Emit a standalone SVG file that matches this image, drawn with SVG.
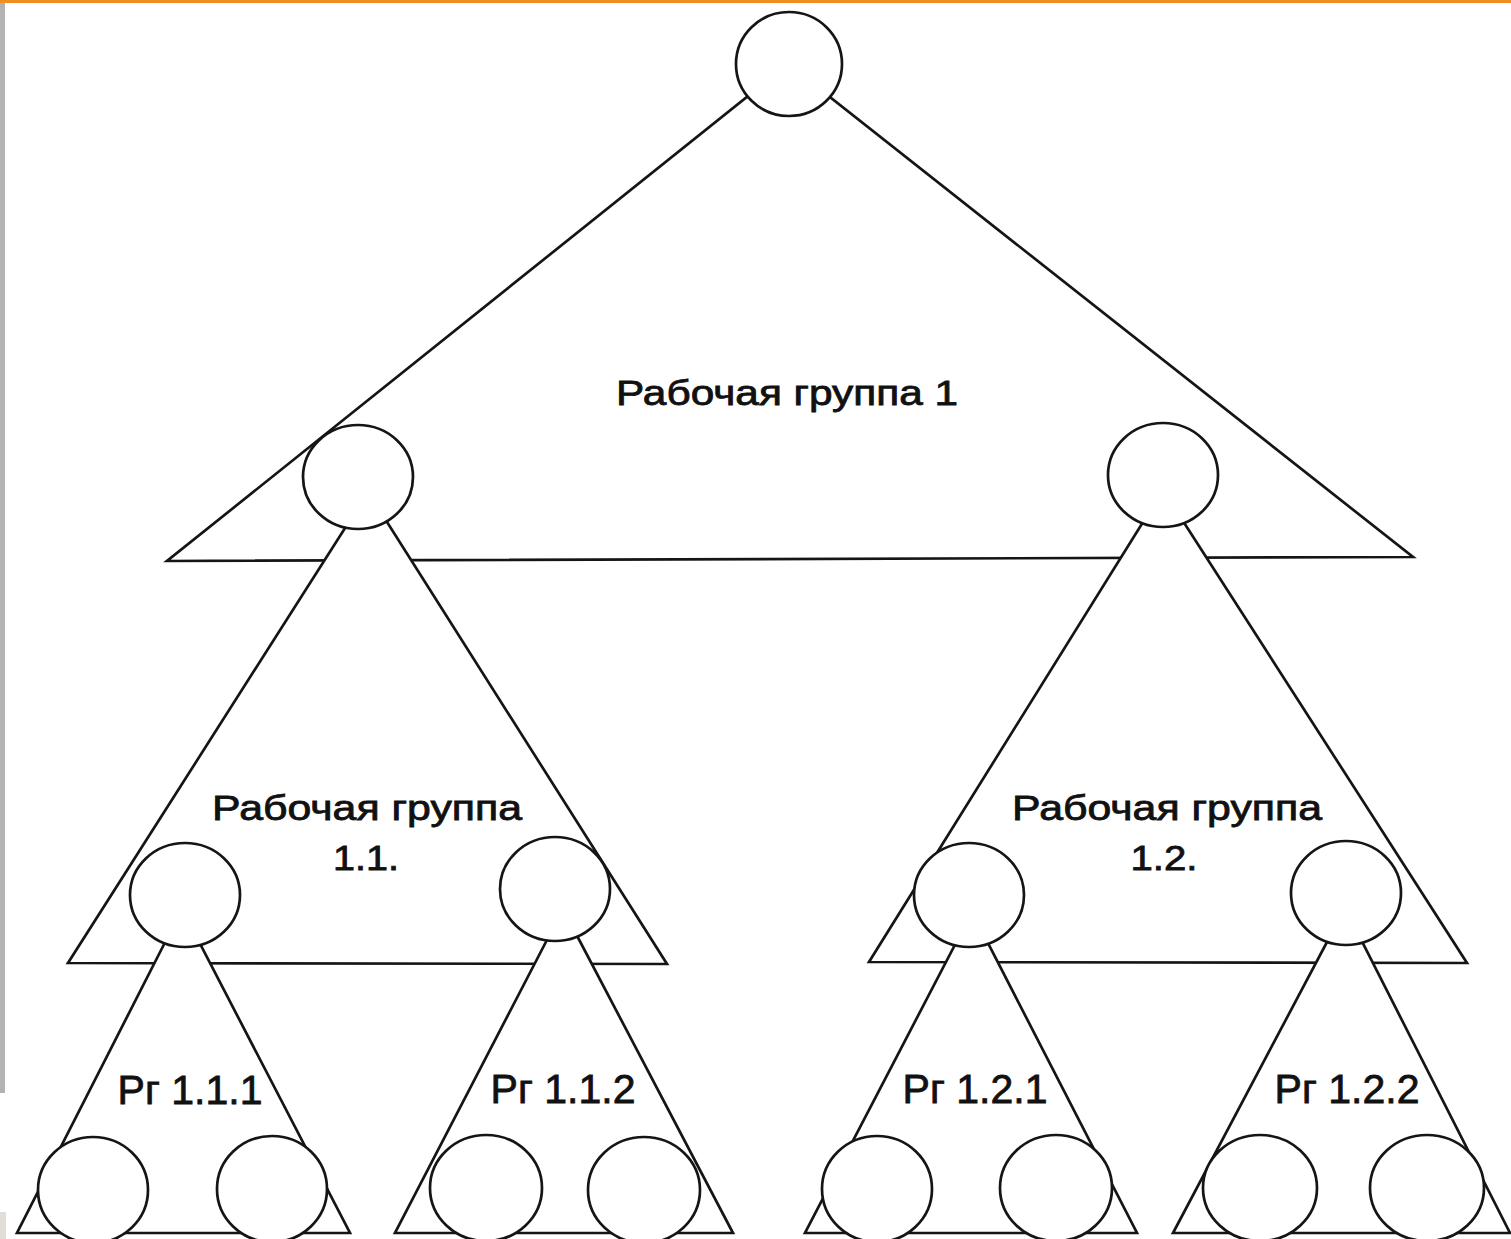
<svg xmlns="http://www.w3.org/2000/svg" width="1511" height="1239" viewBox="0 0 1511 1239">
<style>
.tri{fill:#fff;stroke:#151515;stroke-width:2.7;stroke-linejoin:miter}
.nd{fill:#fff;stroke:#151515;stroke-width:2.7}
.lbl{font-family:"Liberation Sans",Arial,sans-serif;font-size:35px;fill:#111;stroke:#111;stroke-width:0.8;text-anchor:middle}
.rg{font-family:"Liberation Sans",Arial,sans-serif;font-size:41px;fill:#111;stroke:#111;stroke-width:0.8;text-anchor:middle}
</style>
<rect x="0" y="0" width="1511" height="1239" fill="#fff"/>
<rect x="0" y="0" width="1511" height="3" fill="#ef8f22"/>
<rect x="0" y="3" width="5" height="1090" fill="#b3b3b3"/>
<rect x="0" y="1212" width="6" height="27" fill="#e2ddd6"/>
<g id="connectors">
  <g id="wg1"><polygon class="tri" points="788,64 167,561 1413,557"/></g>
  <g id="wg11"><polygon class="tri" points="368,492 68,963 667,964"/></g>
  <g id="wg12"><polygon class="tri" points="1163,490 869,962 1467,963"/></g>
  <g id="wg111"><polygon class="tri" points="182,909 17,1233 350,1233"/></g>
  <g id="wg112"><polygon class="tri" points="563,909 395,1233 733,1233"/></g>
  <g id="wg121"><polygon class="tri" points="972,912 805,1233 1137,1233"/></g>
  <g id="wg122"><polygon class="tri" points="1345,908 1173,1233 1510,1233"/></g>
</g>
<g id="node-root"><ellipse class="nd" cx="789" cy="64" rx="53" ry="52"/></g>
<g id="node-1-1"><ellipse class="nd" cx="358" cy="477" rx="55" ry="52"/></g>
<g id="node-1-2"><ellipse class="nd" cx="1163" cy="475" rx="55" ry="52"/></g>
<g id="node-1-1-1"><ellipse class="nd" cx="185" cy="895" rx="55" ry="52"/></g>
<g id="node-1-1-2"><ellipse class="nd" cx="555" cy="889" rx="55" ry="52"/></g>
<g id="node-1-2-1"><ellipse class="nd" cx="969" cy="895" rx="55" ry="52"/></g>
<g id="node-1-2-2"><ellipse class="nd" cx="1346" cy="893" rx="55" ry="52"/></g>
<g id="node-1-1-1-a"><ellipse class="nd" cx="93" cy="1190" rx="55" ry="53"/></g>
<g id="node-1-1-1-b"><ellipse class="nd" cx="272" cy="1189" rx="55" ry="53"/></g>
<g id="node-1-1-2-a"><ellipse class="nd" cx="486" cy="1188" rx="56" ry="53"/></g>
<g id="node-1-1-2-b"><ellipse class="nd" cx="644" cy="1190" rx="56" ry="53"/></g>
<g id="node-1-2-1-a"><ellipse class="nd" cx="877" cy="1189" rx="55" ry="53"/></g>
<g id="node-1-2-1-b"><ellipse class="nd" cx="1056" cy="1188" rx="56" ry="53"/></g>
<g id="node-1-2-2-a"><ellipse class="nd" cx="1260" cy="1188" rx="57" ry="53"/></g>
<g id="node-1-2-2-b"><ellipse class="nd" cx="1427" cy="1188" rx="57" ry="53"/></g>
<g id="labels">
  <text class="lbl" x="787" y="405" textLength="342" lengthAdjust="spacingAndGlyphs">Рабочая группа 1</text>
  <text class="lbl" x="367" y="820" textLength="310" lengthAdjust="spacingAndGlyphs">Рабочая группа</text>
  <text class="lbl" x="366" y="870" textLength="66" lengthAdjust="spacingAndGlyphs">1.1.</text>
  <text class="lbl" x="1167" y="820" textLength="310" lengthAdjust="spacingAndGlyphs">Рабочая группа</text>
  <text class="lbl" x="1164" y="870" textLength="67" lengthAdjust="spacingAndGlyphs">1.2.</text>
  <text class="rg" x="190" y="1104">Рг 1.1.1</text>
  <text class="rg" x="563" y="1103">Рг 1.1.2</text>
  <text class="rg" x="975" y="1103">Рг 1.2.1</text>
  <text class="rg" x="1347" y="1103">Рг 1.2.2</text>
</g>
</svg>
